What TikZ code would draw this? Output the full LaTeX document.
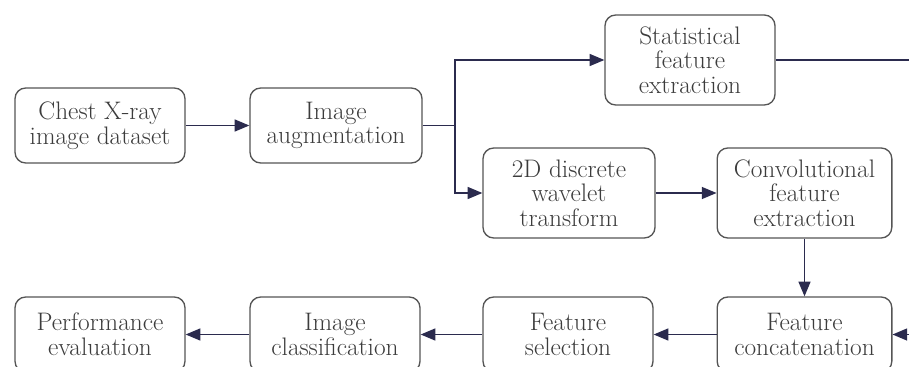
\documentclass[tikz,border=0pt]{standalone}
\usetikzlibrary{arrows.meta}
\definecolor{linec}{HTML}{2B2B4E}
\definecolor{boxc}{HTML}{555555}
\definecolor{textc}{HTML}{3C3C3C}
\tikzset{
  blk/.style={draw=boxc, line width=1pt, rounded corners=8pt, align=center,
    text=textc, font=\fontsize{19}{18.5}\selectfont, inner sep=0pt, fill=white},
  lo/.style={blk, minimum width=127.5pt, minimum height=56.25pt},
  hi/.style={blk, minimum width=129pt, minimum height=67.5pt},
  conn/.style={draw=linec, line width=1pt, -{Triangle[length=11pt,width=9pt]}},
  plain/.style={draw=linec, line width=1pt}
}
\begin{document}
\begin{tikzpicture}[x=0.75pt,y=-0.75pt]
\useasboundingbox (0,0) rectangle (909,367);
\clip (0,0) rectangle (909,367);
\fill[white] (0,0) rectangle (909,367);
\node[lo] (chest) at (100,125.5) {Chest X-ray\\image dataset};
\node[lo, minimum width=129pt] (aug) at (336,125.5) {Image\\augmentation};
\node[hi, minimum width=127.5pt] (stat) at (690,60) {Statistical\\feature\\extraction};
\node[hi] (dwt) at (569,193) {2D discrete\\wavelet\\transform};
\node[hi, minimum width=131pt] (conv) at (804.5,193) {Convolutional\\feature\\extraction};
\node[lo, minimum width=131pt] (concat) at (804.5,334.5) {Feature\\concatenation};
\node[lo] (sel) at (568,334.5) {Feature\\selection};
\node[lo] (cls) at (335,334.5) {Image\\classification};
\node[lo] (perf) at (100,334.5) {Performance\\evaluation};
\coordinate (br) at (455,125.5);
\coordinate (rtop) at (909,60);
\coordinate (rbot) at (909,334.5);
\draw[conn] (chest) -- (aug);
\draw[plain] (aug) -- (br);
\draw[conn] (br) |- (stat);
\draw[conn] (br) |- (dwt);
\draw[conn] (dwt) -- (conv);
\draw[conn] (conv) -- (concat);
\draw[plain] (stat) -- (rtop);
\draw[conn] (rbot) -- (concat);
\draw[conn] (concat) -- (sel);
\draw[conn] (sel) -- (cls);
\draw[conn] (cls) -- (perf);
\end{tikzpicture}
\end{document}
